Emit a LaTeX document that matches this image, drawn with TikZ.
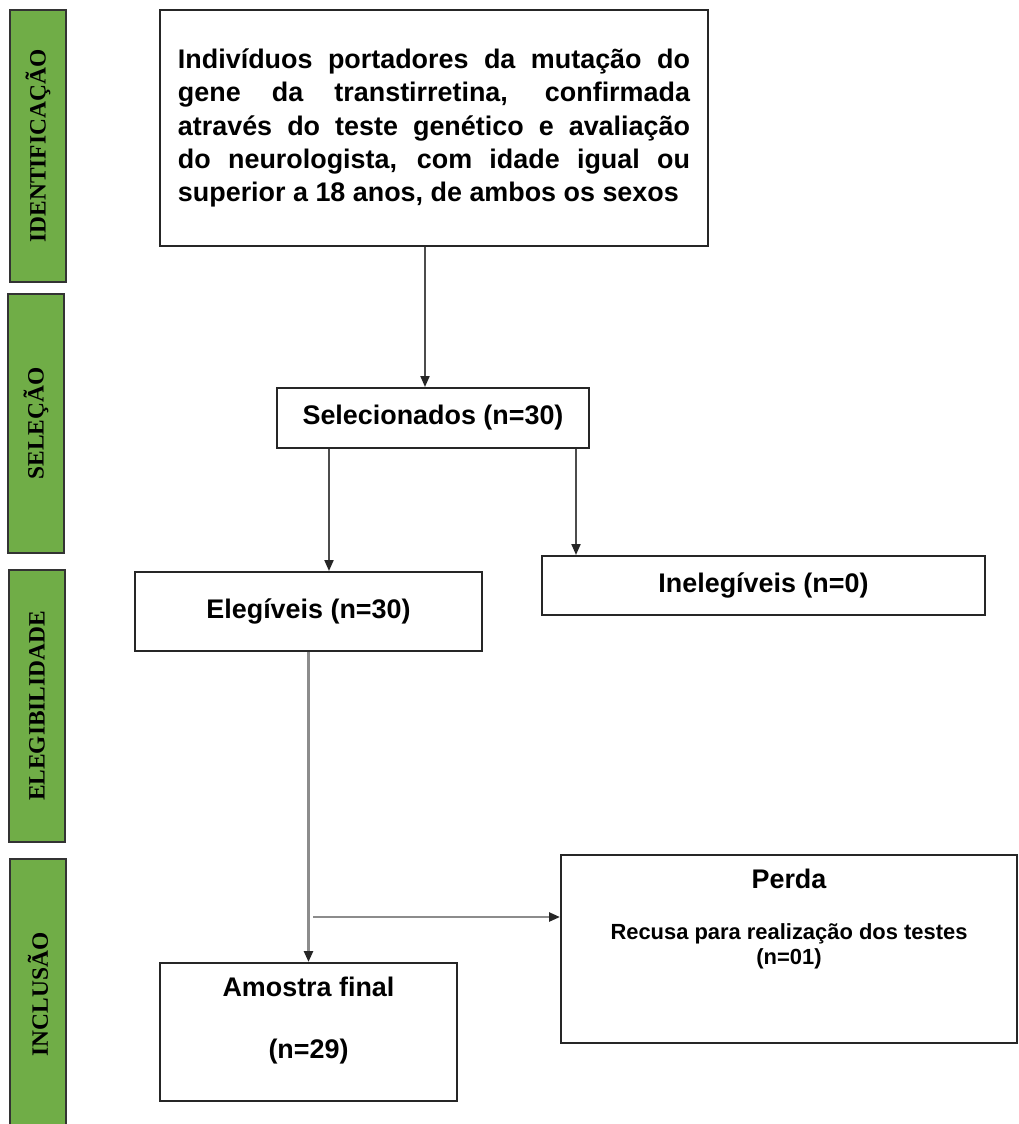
\documentclass[tikz,border=0pt]{standalone}
\usepackage{fontspec}
\setmainfont{Liberation Sans}
\newfontfamily\phasefont{Liberation Serif}
\usepackage{xcolor}
\usetikzlibrary{arrows.meta,positioning}
\definecolor{phasegreen}{HTML}{70AD47}

\begin{document}
\begin{tikzpicture}[x=1bp,y=-1bp]
\tikzset{phase/.style={draw=black!80,line width=2bp,fill=phasegreen,rotate=90,minimum height=55bp,inner sep=0pt,font=\phasefont\bfseries\fontsize{23.5}{25}\selectfont}}
\tikzset{box/.style={draw=black!85,line width=2bp,inner sep=0pt}}
\tikzset{link/.style={draw=black!70,line width=2bp,-{Triangle[length=11bp,width=9bp,color=black!85]}}}
\tikzset{linklight/.style={link,draw=black!45,line width=2.5bp}}
\tikzset{small/.style={font=\bfseries\fontsize{22}{25}\selectfont,align=center,inner sep=0pt}}

\bfseries\fontsize{27}{33.5}\selectfont

\useasboundingbox (0,0) rectangle (1019,1124);

\node[phase,minimum width=272bp] (ident) at (38,146) {IDENTIFICAÇÃO};
\node[phase,minimum width=259bp] (selecao) at (36,423.5) {SELEÇÃO};
\node[phase,minimum width=272bp] (elegib) at (37,706) {ELEGIBILIDADE};
\node[phase,minimum width=271bp] (inclusao) at (38,994.5) {INCLUSÃO};

\node[box,minimum width=548bp,minimum height=236bp,inner xsep=18bp,text width=512bp,align=justify] (popul) at (434,128)
{\hyphenpenalty=10000\hbadness=10000 Indivíduos portadores da mutação do\linebreak gene da transtirretina, confirmada\linebreak através do teste genético e avaliação\linebreak do neurologista, com idade igual ou\linebreak superior a 18 anos, de ambos os sexos};
\node[box,minimum width=312bp,minimum height=60bp] (sel) at (433,418) {Selecionados (n=30)};
\node[box,minimum width=347bp,minimum height=79bp] (eleg) at (308.5,611.5) {Elegíveis (n=30)};
\node[box,minimum width=443bp,minimum height=59bp] (inel) at (763.5,585.5) {Inelegíveis (n=0)};
\node[box,minimum width=456bp,minimum height=188bp] (perda) at (789,949) {};
\node[box,minimum width=297bp,minimum height=138bp] (amostra) at (308.5,1032) {};

\node (perdatit) at ([yshift=-25bp]perda.north) {Perda};
\node[small] (perdatxt) at ([yshift=-92bp]perda.north) {Recusa para realização dos testes\\(n=01)};
\node (amostratit) at ([yshift=-25bp]amostra.north) {Amostra final};
\node (amostratxt) at ([yshift=-90bp]amostra.north) {(n=29)};

\coordinate (branch) at (313,917);

\draw[link] ([xshift=-9bp]popul.south) -- ([xshift=-9bp]popul.south |- sel.north);
\draw[link] ([xshift=53bp]sel.south west) -- ([xshift=53bp]sel.south west |- eleg.north);
\draw[link] ([xshift=-14bp]sel.south east) -- ([xshift=-14bp]sel.south east |- inel.north);
\draw[linklight] (eleg.south) -- (eleg.south |- amostra.north);
\draw[linklight] (branch) -- (branch -| perda.west);

\end{tikzpicture}
\end{document}
